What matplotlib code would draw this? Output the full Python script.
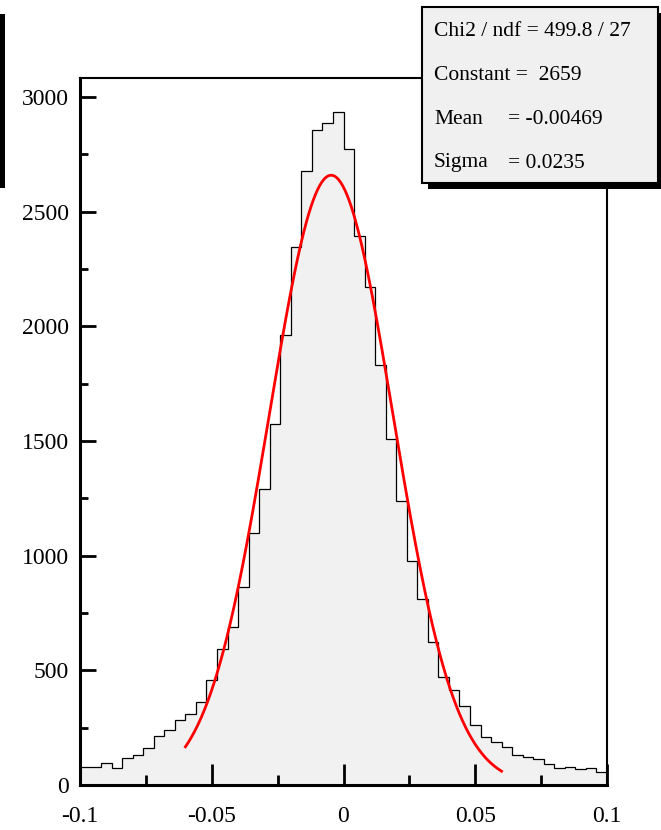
import numpy as np
import matplotlib
matplotlib.use("Agg")
import matplotlib.pyplot as plt
from matplotlib.patches import Rectangle
from matplotlib.ticker import MultipleLocator

# ---- data ----
x_min, x_max = -0.1, 0.1
n_bins = 50
counts = [79, 79, 97, 74, 119, 131, 163, 215, 240, 282,
          311, 364, 460, 595, 688, 863, 1101, 1291, 1576, 1962,
          2345, 2677, 2856, 2887, 2936, 2772, 2394, 2170, 1832, 1508,
          1237, 975, 811, 622, 472, 413, 344, 261, 210, 188,
          167, 131, 121, 115, 90, 76, 80, 68, 74, 57]
fit_constant = 2659
fit_mean = -0.00469
fit_sigma = 0.0235
fit_range = (-0.06, 0.06)
stats_labels = ["Chi2 / ndf = 499.8 / 27", "Constant =  2659", "Mean", "Sigma"]
stats_values = ["", "", "= -0.00469", "= 0.0235"]
x_ticks = [-0.1, -0.05, 0, 0.05, 0.1]
x_tick_labels = ["-0.1", "-0.05", "0", "0.05", "0.1"]
y_ticks = [0, 500, 1000, 1500, 2000, 2500, 3000]

W, H = 661, 830
fig = plt.figure(figsize=(W / 100, H / 100), dpi=100)
plt.rcParams['font.family'] = ['Liberation Serif', 'DejaVu Serif']

ax = fig.add_axes([80 / W, 1 - 785 / H, (607 - 80) / W, (785 - 78) / H])
edges = np.linspace(x_min, x_max, n_bins + 1)
ax.stairs(counts, edges, fill=True, color="#f1f1f1", zorder=1)
ax.stairs(counts, edges, fill=False, color="black", linewidth=0.9, zorder=2)

xf = np.linspace(fit_range[0], fit_range[1], 300)
yf = fit_constant * np.exp(-0.5 * ((xf - fit_mean) / fit_sigma) ** 2)
ax.plot(xf, yf, color="red", linewidth=2.0, zorder=3)

ax.set_xlim(x_min, x_max)
ax.set_ylim(0, 3083)
ax.set_xticks(x_ticks)
ax.set_xticklabels(x_tick_labels)
ax.set_yticks(y_ticks)
ax.xaxis.set_minor_locator(MultipleLocator(0.025))
ax.yaxis.set_minor_locator(MultipleLocator(250))
ax.tick_params(axis="x", which="major", direction="in", length=15, width=2.0,
               labelsize=17, pad=15)
ax.tick_params(axis="x", which="minor", direction="in", length=7.5, width=2.0)
ax.tick_params(axis="y", which="major", direction="in", length=11.5, width=2.0,
               labelsize=17, pad=8)
ax.tick_params(axis="y", which="minor", direction="in", length=6, width=2.0)
ax.spines["left"].set_linewidth(2.2)
ax.spines["bottom"].set_linewidth(2.2)
ax.spines["top"].set_linewidth(1.5)
ax.spines["right"].set_linewidth(1.5)

# stats box with shadow (figure pixel coords)
def fx(px):
    return px / W

def fy(py):
    return 1 - py / H

bx0, bx1, by0, by1 = 422, 658, 7, 183
fig.patches.append(Rectangle((fx(bx0 + 6), fy(by1 + 6)), fx(bx1 - bx0), (by1 - by0) / H,
                             transform=fig.transFigure, facecolor="black",
                             edgecolor="none", zorder=10))
fig.patches.append(Rectangle((fx(bx0), fy(by1)), fx(bx1 - bx0), (by1 - by0) / H,
                             transform=fig.transFigure, facecolor="#f0f0f0",
                             edgecolor="black", linewidth=1.5, zorder=11))
ys = [32, 75, 119, 163]
for lab, val, yy in zip(stats_labels, stats_values, ys):
    fig.text(fx(434), fy(yy), lab, fontsize=15.5, va="center", ha="left", zorder=12)
    if val:
        fig.text(fx(508), fy(yy), val, fontsize=15.5, va="center", ha="left", zorder=12)

# partial black bar on the left edge (cut-off title frame)
fig.patches.append(Rectangle((0, fy(188)), fx(5), (188 - 14) / H,
                             transform=fig.transFigure, facecolor="black",
                             edgecolor="none", zorder=10))

fig.savefig("out.png", dpi=100)
